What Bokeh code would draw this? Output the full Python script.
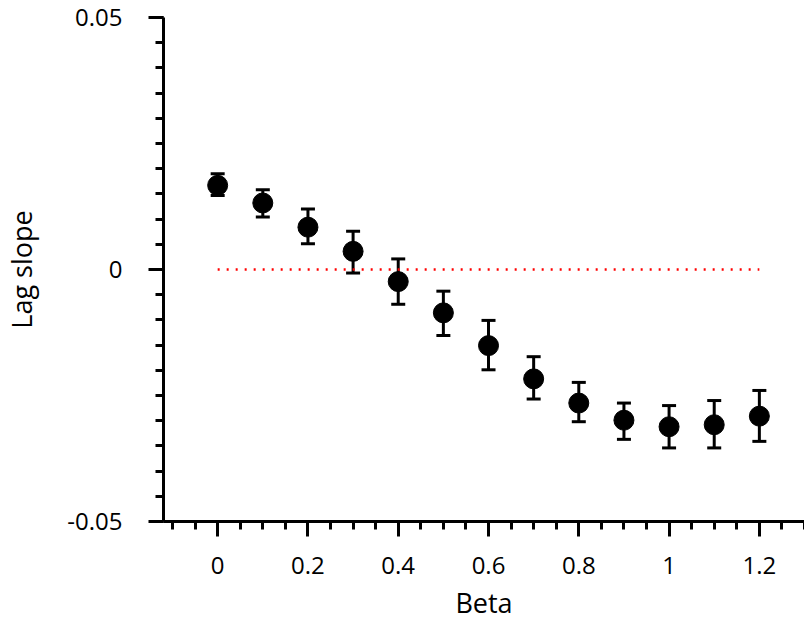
from bokeh.plotting import figure
from bokeh.models import FixedTicker, Whisker, ColumnDataSource, Range1d
from bokeh.embed import file_html
from bokeh.resources import INLINE

# Data
beta = [0.0, 0.1, 0.2, 0.3, 0.4, 0.5, 0.6, 0.7, 0.8, 0.9, 1.0, 1.1, 1.2]
lag_slope = [0.0167, 0.0132, 0.0084, 0.0036, -0.0024, -0.0086, -0.0151, -0.0217,
             -0.0265, -0.0299, -0.0312, -0.0308, -0.0291]
err_low = [0.0147, 0.0104, 0.0051, -0.0007, -0.0069, -0.0131, -0.0199, -0.0257,
           -0.0302, -0.0337, -0.0354, -0.0354, -0.0341]
err_high = [0.0190, 0.0158, 0.0120, 0.0076, 0.0021, -0.0043, -0.0101, -0.0173,
            -0.0224, -0.0265, -0.0270, -0.0260, -0.0240]
ref_x = [0.0, 1.2]
ref_y = [0.0, 0.0]

x_major = [0, 0.2, 0.4, 0.6, 0.8, 1.0, 1.2]
x_minor = [round(-0.1 + 0.05 * i, 2) for i in range(29)]
x_labels = {0: "0", 0.2: "0.2", 0.4: "0.4", 0.6: "0.6", 0.8: "0.8", 1: "1", 1.2: "1.2"}
y_major = [-0.05, 0, 0.05]
y_minor = [round(-0.05 + 0.005 * i, 3) for i in range(21)]
y_labels = {-0.05: "-0.05", 0: "0", 0.05: "0.05"}

FONT = "Open Sans"

p = figure(width=804, height=623, output_backend="svg", toolbar_location=None,
           x_range=Range1d(-0.12, 1.3), y_range=Range1d(-0.05, 0.05),
           min_border_left=162, min_border_right=0, min_border_top=17,
           min_border_bottom=102)
p.outline_line_color = None
p.xgrid.visible = False
p.ygrid.visible = False
p.background_fill_color = "white"
p.border_fill_color = "white"

src = ColumnDataSource(dict(x=beta, y=lag_slope, lo=err_low, hi=err_high))

p.line(ref_x, ref_y, line_color="red", line_width=2.5, line_dash="2 7")

w = Whisker(source=src, base="x", lower="lo", upper="hi", line_color="black",
            line_width=3)
w.upper_head.size = 14
w.lower_head.size = 14
w.upper_head.line_width = 3
w.lower_head.line_width = 3
p.add_layout(w)

p.scatter("x", "y", source=src, size=20, fill_color="black", line_color="black")

for ax in (p.xaxis[0], p.yaxis[0]):
    ax.axis_line_width = 3
    ax.major_tick_line_width = 3
    ax.minor_tick_line_width = 3
    ax.major_tick_out = 15
    ax.major_tick_in = 0
    ax.minor_tick_out = 8
    ax.minor_tick_in = 0
    ax.major_label_text_font = FONT
    ax.major_label_text_font_size = "24px"
    ax.major_label_text_color = "black"
    ax.axis_label_text_font = FONT
    ax.axis_label_text_font_size = "27px"
    ax.axis_label_text_font_style = "normal"
    ax.axis_label_text_color = "black"

p.xaxis[0].ticker = FixedTicker(ticks=x_major, minor_ticks=x_minor)
p.xaxis[0].major_label_overrides = x_labels
p.xaxis[0].axis_label = "Beta"
p.xaxis[0].major_label_standoff = 20
p.xaxis[0].axis_label_standoff = 7

p.yaxis[0].ticker = FixedTicker(ticks=y_major, minor_ticks=y_minor)
p.yaxis[0].major_label_overrides = y_labels
p.yaxis[0].axis_label = "Lag slope"
p.yaxis[0].major_label_standoff = 26
p.yaxis[0].axis_label_standoff = 24

open("out.html", "w").write(file_html(p, INLINE))
